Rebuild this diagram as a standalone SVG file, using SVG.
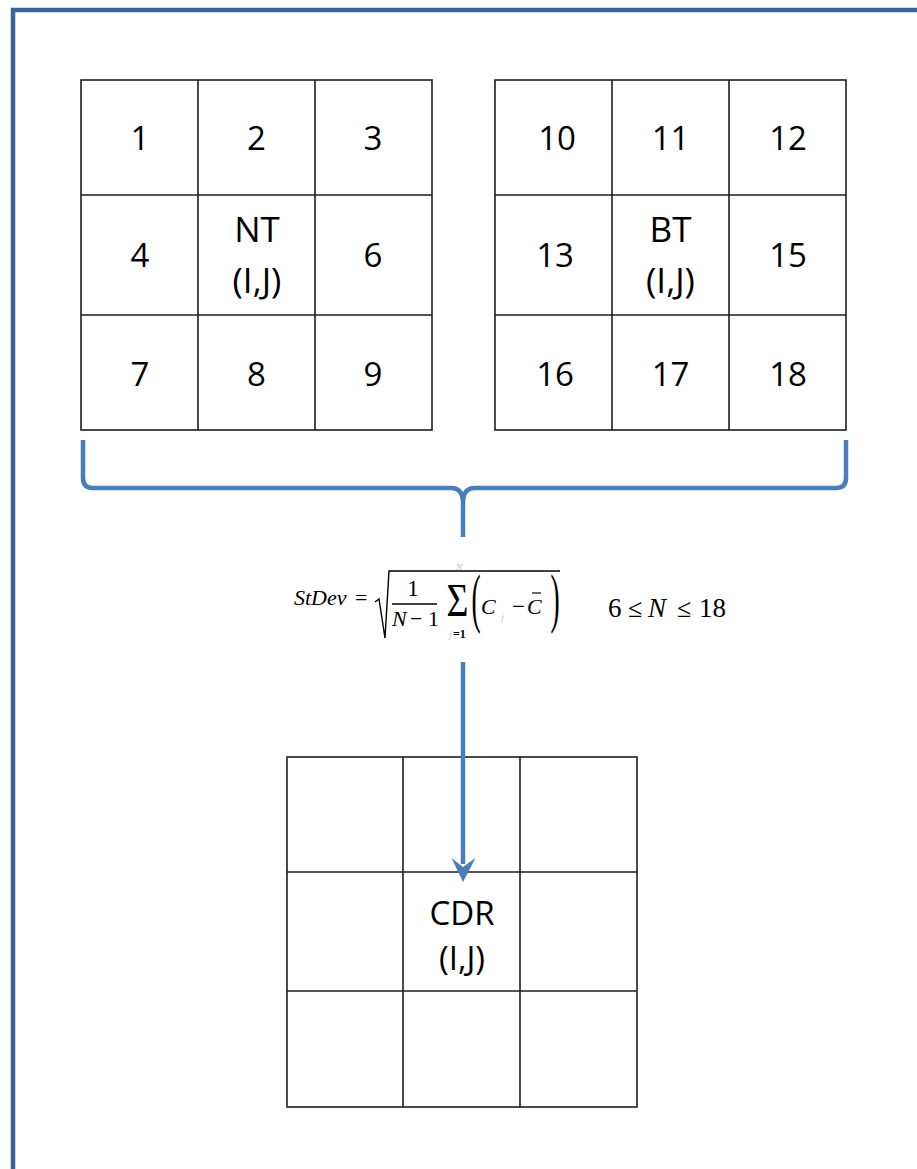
<svg xmlns="http://www.w3.org/2000/svg" width="917" height="1169" viewBox="0 0 917 1169">
<style>
.g{fill:none;stroke:#1e1e1e;stroke-width:1.6}
.t{font-family:"Open Sans","Liberation Sans",sans-serif;font-size:33px;fill:#000;text-anchor:middle}
.tl{font-family:"Open Sans","Liberation Sans",sans-serif;font-size:35px;fill:#000;text-anchor:middle}
.m{font-family:"Liberation Serif",serif;font-size:22px;fill:#000}
.mi{font-family:"Liberation Serif",serif;font-size:22px;font-style:italic;fill:#000}
.blue{fill:none;stroke:#4a7ebb;stroke-width:4.5}
</style>
<rect width="917" height="1169" fill="#fff"/>
<rect id="frame" x="13" y="10" width="940" height="1200" fill="none" stroke="#3a6396" stroke-width="4.5"/>

<g id="grid-nt">
<rect class="g" x="81" y="80" width="351" height="350"/>
<path class="g" d="M198 80V430M315 80V430M81 195H432M81 315H432"/>
<text class="t" x="140" y="150">1</text>
<text class="t" x="256.5" y="150">2</text>
<text class="t" x="373" y="150">3</text>
<text class="t" x="140" y="267">4</text>
<text class="tl" x="257" y="242">NT</text>
<text class="tl" x="257" y="293">(I,J)</text>
<text class="t" x="373" y="267">6</text>
<text class="t" x="140" y="386">7</text>
<text class="t" x="256.5" y="386">8</text>
<text class="t" x="373" y="386">9</text>
</g>

<g id="grid-bt">
<rect class="g" x="495" y="80" width="351" height="350"/>
<path class="g" d="M612 80V430M729 80V430M495 195H846M495 315H846"/>
<text class="t" x="557" y="150">10</text>
<text class="t" x="670.5" y="150">11</text>
<text class="t" x="788" y="150">12</text>
<text class="t" x="555" y="267">13</text>
<text class="tl" x="670.5" y="242">BT</text>
<text class="tl" x="670.5" y="293">(I,J)</text>
<text class="t" x="788" y="267">15</text>
<text class="t" x="555" y="386">16</text>
<text class="t" x="670.5" y="386">17</text>
<text class="t" x="788" y="386">18</text>
</g>

<g id="grid-cdr">
<rect class="g" x="287" y="757" width="350" height="350"/>
<path class="g" d="M403 757V1107M520 757V1107M287 872H637M287 991H637"/>
<text class="t" x="462" y="925" style="font-size:33px">CDR</text>
<text class="t" x="462" y="970" style="font-size:33px">(I,J)</text>
</g>

<g id="formula">
<text class="mi" x="294" y="605">StDev</text>
<text class="m" x="355" y="605">=</text>
<path d="M375 602L379 599L385 638L389 571H560" fill="none" stroke="#000" stroke-width="1.4"/>
<text class="m" x="413" y="596" text-anchor="middle" style="font-size:23px">1</text>
<line x1="392" y1="604" x2="437" y2="604" stroke="#000" stroke-width="1.3"/>
<text class="mi" x="392" y="626">N</text>
<text class="m" x="410" y="626">− 1</text>
<text class="m" transform="translate(457.5,616) scale(1.05,1.3)" text-anchor="middle" style="font-size:36px">Σ</text>
<text class="mi" x="456" y="570" style="font-size:9px;fill:#bbb">N</text>
<text class="mi" x="449" y="638" style="font-size:11px;fill:#ccc">j</text>
<text class="m" x="453" y="638" style="font-size:12px;font-weight:bold">=1</text>
<text class="m" transform="translate(476,620) scale(0.55,1.32)" text-anchor="middle" style="font-size:50px">(</text>
<text class="mi" x="481" y="614">C</text>
<text class="mi" x="501" y="621" style="font-size:11px;fill:#ccc">j</text>
<text class="m" x="512" y="614" style="font-size:23px">−</text>
<text class="mi" x="527" y="614">C</text>
<line x1="532" y1="593" x2="541" y2="593" stroke="#000" stroke-width="1.2"/>
<text class="m" transform="translate(555,620) scale(0.55,1.32)" text-anchor="middle" style="font-size:50px">)</text>
<text class="m" x="608" y="617" style="font-size:27px">6</text>
<text class="m" x="628" y="617" style="font-size:26px">≤</text>
<text class="mi" x="648" y="617" style="font-size:27px">N</text>
<text class="m" x="677" y="617" style="font-size:26px">≤</text>
<text class="m" x="699" y="617" style="font-size:27px">18</text>
</g>

<g id="connectors">
<path class="blue" d="M83 440V478Q83 488 93 488H451Q463 488 463 503V537M463 503Q463 488 475 488H836Q846 488 846 478V440"/>
<line x1="463" y1="662" x2="463" y2="864" stroke="#4a7ebb" stroke-width="4.5"/>
<polygon points="451.5,858 463,882 475.5,858 463,867" fill="#4a7ebb"/>
</g>
</svg>
